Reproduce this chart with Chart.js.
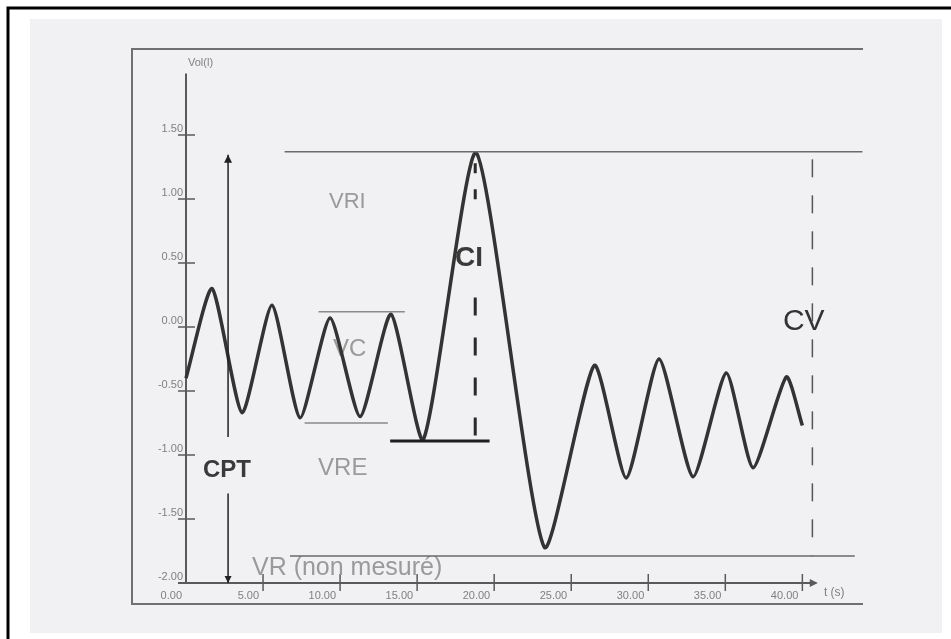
<!DOCTYPE html>
<html>
<head>
<meta charset="utf-8">
<script src="https://cdn.jsdelivr.net/npm/chart.js@4"></script>
<style>
  html, body { margin: 0; padding: 0; background: #fff; }
  #wrap { position: relative; width: 951px; height: 639px; }
</style>
</head>
<body>
<div id="wrap"><canvas id="spiro"></canvas></div>
<script>
// volume curve (l) against time (s), read at each peak / trough
const times   = [0, 1.69, 3.64, 5.58, 7.40, 9.35, 11.3, 13.3, 15.4, 18.83, 23.25, 26.5, 28.57, 30.7, 32.9, 35.06, 36.8, 38.96, 40.0];
const volumes = [-0.40, 0.30, -0.67, 0.17, -0.71, 0.07, -0.70, 0.10, -0.88, 1.36, -1.72, -0.30, -1.18, -0.25, -1.17, -0.36, -1.10, -0.39, -0.77];

const xTicks = [0, 5, 10, 15, 20, 25, 30, 35, 40];
const xTickLabels = ['0.00', '5.00', '10.00', '15.00', '20.00', '25.00', '30.00', '35.00', '40.00'];
const yTicks = [1.5, 1, 0.5, 0, -0.5, -1, -1.5, -2];
const yTickLabels = ['1.50', '1.00', '0.50', '0.00', '-0.50', '-1.00', '-1.50', '-2.00'];

// reference lines: time span and level
const vriSpan = [6.4, 43.9];      const vriLevel = 1.37;
const vcTopSpan = [8.6, 14.2];    const vcTopLevel = 0.12;
const vcLowSpan = [7.7, 13.1];    const vcLowLevel = -0.75;
const frcSpan = [13.25, 19.7];    const frcLevel = -0.89;
const vrSpan = [6.75, 43.4];      const vrLevel = -1.79;
// vertical lines: time and volume span
const ciTime = 18.77;  const ciUpper = [1.28, 0.89];  const ciLower = [0.23, -0.89];
const cvTime = 40.65;  const cvSpan = [1.31, -1.79];
const cptTime = 2.73;  const cptUpper = [1.345, -0.86]; const cptLower = [-1.30, -2.0];

// labels: text, time, volume (baseline)
const labelTexts = ['CPT', 'VRE', 'VRI', 'VC', 'CI', 'CV', 'VR (non mesuré)'];
const labelTimes = [1.10, 8.57, 9.28, 9.54, 17.46, 38.74, 4.28];
const labelVols  = [-1.17, -1.16, 0.93, -0.23, 0.48, -0.02, -1.94];

const hline = (span, level, color, width, dash) => ({
  data: span.map(t => ({ x: t, y: level })),
  borderColor: color, borderWidth: width, borderDash: dash || [],
  pointRadius: 0, tension: 0, clip: false
});
const vline = (t, span, color, width, dash) => ({
  data: span.map(v => ({ x: t, y: v })),
  borderColor: color, borderWidth: width, borderDash: dash || [],
  pointRadius: 0, tension: 0, clip: false
});

const arrow = (ctx, x, y, dir, size) => {
  ctx.beginPath();
  if (dir === 'up') { ctx.moveTo(x, y); ctx.lineTo(x - size / 2, y + size); ctx.lineTo(x + size / 2, y + size); }
  if (dir === 'down') { ctx.moveTo(x, y); ctx.lineTo(x - size / 2, y - size); ctx.lineTo(x + size / 2, y - size); }
  if (dir === 'right') { ctx.moveTo(x, y); ctx.lineTo(x - size, y - size / 2); ctx.lineTo(x - size, y + size / 2); }
  ctx.closePath();
  ctx.fill();
};

const paper = {
  id: 'paper',
  beforeDraw(chart) {
    const ctx = chart.ctx;
    ctx.save();
    ctx.fillStyle = '#fff';
    ctx.fillRect(0, 0, chart.width, chart.height);
    ctx.fillStyle = '#f1f0f2';
    ctx.fillRect(30, 19, 912, 614);
    ctx.strokeStyle = '#000';
    ctx.lineWidth = 3;
    ctx.beginPath();
    ctx.moveTo(8, 639); ctx.lineTo(8, 8); ctx.lineTo(951, 8);
    ctx.stroke();
    // frame of the scanned plot
    ctx.strokeStyle = '#707070';
    ctx.lineWidth = 2;
    ctx.beginPath();
    ctx.moveTo(863, 49); ctx.lineTo(132, 49); ctx.lineTo(132, 604); ctx.lineTo(863, 604);
    ctx.stroke();
    ctx.restore();
  }
};

const axes = {
  id: 'axes',
  beforeDatasetsDraw(chart) {
    const ctx = chart.ctx;
    const xs = chart.scales.x, ys = chart.scales.y;
    const x0 = xs.getPixelForValue(0), y0 = ys.getPixelForValue(-2);
    ctx.save();
    ctx.strokeStyle = '#5a5a5a';
    ctx.fillStyle = '#5a5a5a';
    ctx.lineWidth = 2;
    ctx.beginPath();
    ctx.moveTo(x0, ys.getPixelForValue(1.98));
    ctx.lineTo(x0, y0 + 1);
    ctx.moveTo(x0 - 8, y0);
    ctx.lineTo(xs.getPixelForValue(40.9), y0);
    ctx.stroke();
    arrow(ctx, xs.getPixelForValue(41.0), y0, 'right', 8);

    ctx.lineWidth = 1.5;
    ctx.font = '11px "Liberation Sans", Arial, sans-serif';
    ctx.fillStyle = '#808080';
    ctx.textAlign = 'right';
    ctx.textBaseline = 'middle';
    yTicks.forEach((v, i) => {
      const y = ys.getPixelForValue(v);
      ctx.beginPath(); ctx.moveTo(x0 - 8, y); ctx.lineTo(x0 + 9, y); ctx.stroke();
      ctx.fillText(yTickLabels[i], x0 - 3, y - 6);
    });
    xTicks.forEach((t, i) => {
      const x = xs.getPixelForValue(t);
      if (i > 0) { ctx.beginPath(); ctx.moveTo(x, y0 - 9); ctx.lineTo(x, y0 + 8); ctx.stroke(); }
      ctx.fillText(xTickLabels[i], x - 4, y0 + 13);
    });
    ctx.textAlign = 'left';
    ctx.fillText('Vol(l)', x0 + 2, ys.getPixelForValue(2) - 8);
    ctx.font = '12px "Liberation Sans", Arial, sans-serif';
    ctx.fillText('t (s)', xs.getPixelForValue(41.4), y0 + 10);

    // annotation text
    ctx.textBaseline = 'alphabetic';
    labelTexts.forEach((txt, i) => {
      const x = xs.getPixelForValue(labelTimes[i]);
      const y = ys.getPixelForValue(labelVols[i]);
      if (txt === 'CPT') { ctx.font = 'bold 24px "Liberation Sans", Arial, sans-serif'; ctx.fillStyle = '#3a3a3a'; }
      else if (txt === 'CI') { ctx.font = 'bold 28px "Liberation Sans", Arial, sans-serif'; ctx.fillStyle = '#3a3a3a'; }
      else if (txt === 'CV') { ctx.font = '30px "Liberation Sans", Arial, sans-serif'; ctx.fillStyle = '#333'; }
      else if (txt === 'VRI') { ctx.font = '22px "Liberation Sans", Arial, sans-serif'; ctx.fillStyle = '#9a9a9a'; }
      else if (txt.startsWith('VR (')) { ctx.font = '25px "Liberation Sans", Arial, sans-serif'; ctx.fillStyle = '#9a9a9a'; }
      else { ctx.font = '24px "Liberation Sans", Arial, sans-serif'; ctx.fillStyle = '#9a9a9a'; }
      ctx.fillText(txt, x, y);
    });
    ctx.restore();
  },
  afterDatasetsDraw(chart) {
    const ctx = chart.ctx;
    const xs = chart.scales.x, ys = chart.scales.y;
    ctx.save();
    ctx.fillStyle = '#222';
    arrow(ctx, xs.getPixelForValue(cptTime), ys.getPixelForValue(cptUpper[0]), 'up', 8);
    arrow(ctx, xs.getPixelForValue(cptTime), ys.getPixelForValue(cptLower[1]), 'down', 7);
    ctx.restore();
  }
};

new Chart(document.getElementById('spiro'), {
  type: 'line',
  data: {
    datasets: [
      hline(vriSpan, vriLevel, '#6a6a6a', 1.5),
      hline(vcTopSpan, vcTopLevel, '#8a8a8a', 1.5),
      hline(vcLowSpan, vcLowLevel, '#8a8a8a', 1.5),
      hline(vrSpan, vrLevel, '#6a6a6a', 1.5),
      hline(frcSpan, frcLevel, '#1e1e1e', 3),
      vline(ciTime, ciUpper, '#2a2a2a', 3, [10, 16]),
      vline(ciTime, ciLower, '#2a2a2a', 3, [18, 22]),
      vline(cvTime, cvSpan, '#555', 1.5, [18, 18]),
      vline(cptTime, cptUpper, '#222', 1.5),
      vline(cptTime, cptLower, '#222', 1.5),
      {
        data: times.map((t, i) => ({ x: t, y: volumes[i] })),
        borderColor: '#333',
        borderWidth: 3.5,
        pointRadius: 0,
        tension: 0.2,
        clip: false
      }
    ]
  },
  options: {
    responsive: true,
    maintainAspectRatio: false,
    animation: false,
    events: [],
    layout: { padding: { left: 186, right: 87, top: 71, bottom: 56 } },
    plugins: { legend: { display: false }, tooltip: { enabled: false } },
    scales: {
      x: { type: 'linear', min: 0, max: 44, display: false },
      y: { type: 'linear', min: -2, max: 2, display: false }
    }
  },
  plugins: [paper, axes]
});
</script>
</body>
</html>
